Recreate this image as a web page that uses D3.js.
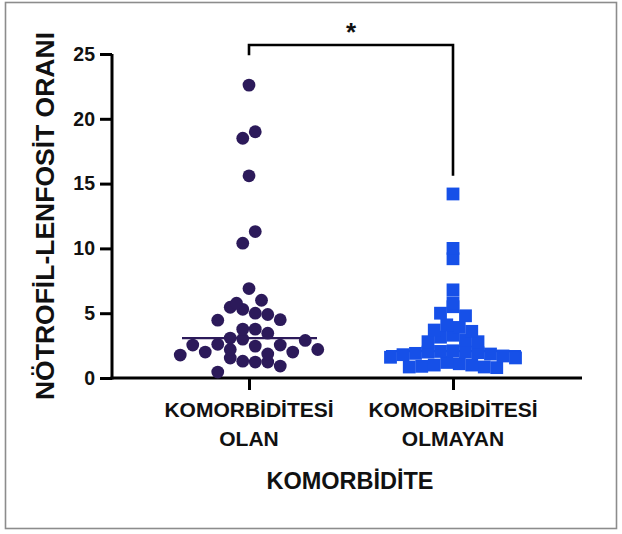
<!DOCTYPE html>
<html>
<head>
<meta charset="utf-8">
<script src="https://cdn.jsdelivr.net/npm/d3@7"></script>
<style>
  html, body { margin: 0; padding: 0; background: #fff; }
  svg { display: block; }
  text { font-family: "Liberation Sans", Arial, sans-serif; font-weight: bold; fill: #111; }
</style>
</head>
<body>
<svg id="chart" width="622" height="534"></svg>
<script>
// Groups shown on the x axis
const categories = ["KOMORBİDİTESİ OLAN", "KOMORBİDİTESİ OLMAYAN"];
const categoryLines = [["KOMORBİDİTESİ", "OLAN"], ["KOMORBİDİTESİ", "OLMAYAN"]];

// Neutrophil-lymphocyte ratio per patient, with comorbidity
const withComorbidity = [
  22.6, 19.0, 18.5, 15.6, 11.3, 10.4, 6.9, 6.0, 5.77, 5.46, 5.3, 5.0, 4.9,
  4.5, 4.46, 3.77, 3.77, 3.46, 3.08, 3.0, 2.9, 2.6, 2.54, 2.54, 2.46, 2.2,
  2.2, 2.0, 2.0, 1.85, 1.77, 1.54, 1.3, 1.23, 1.23, 0.92, 0.46
];

// Neutrophil-lymphocyte ratio per patient, without comorbidity
const withoutComorbidity = [
  14.2, 10.0, 9.2, 6.8, 5.8, 5.5, 5.0, 4.8, 4.1, 3.9, 3.7, 3.6, 3.3, 3.15,
  2.9, 2.8, 2.8, 2.1, 2.05, 2.0, 2.0, 1.95, 1.9, 1.85, 1.8, 1.7, 1.6, 1.55,
  1.2, 1.1, 1.0, 1.0, 0.9, 0.85, 0.85, 0.8
];

const yTicks = [0, 5, 10, 15, 20, 25];
const yTitle = "NÖTROFİL-LENFOSİT ORANI";
const xTitle = "KOMORBİDİTE";
const significance = "*";

const svg = d3.select("#chart");

// frame around the figure
svg.append("rect")
  .attr("x", 5.5).attr("y", 2.5).attr("width", 611).attr("height", 526)
  .attr("fill", "none").attr("stroke", "#8c8c8c").attr("stroke-width", 1.6);

const plot = { left: 112, right: 582, top: 54, bottom: 378 };

const y = d3.scaleLinear().domain([0, 25]).range([plot.bottom, plot.top]);
const x = d3.scalePoint().domain(categories).range([249, 453]);

// ---- y axis
const yAxis = svg.append("g")
  .attr("transform", `translate(${plot.left},0)`)
  .call(d3.axisLeft(y).tickValues(yTicks).tickSize(12).tickSizeOuter(0).tickPadding(5));
yAxis.select(".domain").attr("stroke", "#000").attr("stroke-width", 3)
  .attr("d", `M0,${plot.bottom + 1.5}V${plot.top}`);
yAxis.selectAll(".tick line").attr("stroke", "#000").attr("stroke-width", 3);
yAxis.selectAll(".tick text").attr("font-size", 19.5).attr("fill", "#111")
  .style("font-family", "'Liberation Sans', Arial, sans-serif").style("font-weight", "bold");

// ---- x axis
const xAxis = svg.append("g")
  .attr("transform", `translate(0,${plot.bottom})`)
  .call(d3.axisBottom(x).tickSize(12).tickSizeOuter(0).tickFormat(""));
xAxis.select(".domain").attr("stroke", "#000").attr("stroke-width", 3)
  .attr("d", `M${plot.left - 1.5},0H${plot.right}`);
xAxis.selectAll(".tick line").attr("stroke", "#000").attr("stroke-width", 3);

categories.forEach((c, i) => {
  const t = svg.append("text")
    .attr("x", x(c)).attr("text-anchor", "middle").attr("font-size", 21);
  categoryLines[i].forEach((ln, j) => {
    t.append("tspan").attr("x", x(c)).attr("y", 417 + j * 29).text(ln);
  });
});

svg.append("text")
  .attr("x", 350).attr("y", 489).attr("text-anchor", "middle")
  .attr("font-size", 23.5).text(xTitle);

svg.append("text")
  .attr("transform", `translate(54,${(plot.top + plot.bottom) / 2}) rotate(-90)`)
  .attr("text-anchor", "middle").attr("font-size", 26.5).text(yTitle);

// ---- column scatter layout: values are grouped into horizontal rows whose
// vertical extent is at most `rowSpan` pixels, and each row is spread over
// evenly spaced slots centred on the group.
//   "arch"    - larger values take the middle slots
//   "scatter" - values are dealt over the slots with a fixed stride
function scatterLayout(values, slot, rowSpan, mode) {
  const pts = values.map(v => ({ v, py: y(v) })).sort((a, b) => a.v - b.v);
  const rows = [];
  pts.forEach(p => {
    const row = rows[rows.length - 1];
    if (row && row[0].py - p.py < rowSpan) row.push(p);
    else rows.push([p]);
  });
  const gcd = (a, b) => (b ? gcd(b, a % b) : a);
  rows.forEach(row => {
    const n = row.length;
    if (mode === "scatter") {
      let s = Math.max(1, Math.round(n * 0.618));
      while (gcd(s, n) !== 1) s++;
      row.forEach((p, i) => {
        const pos = (i * s) % n;
        p.dx = (pos - (n - 1) / 2) * slot;
      });
    } else {
      const desc = row.slice().sort((a, b) => b.v - a.v);
      const offsets = [];
      if (n % 2) {
        offsets.push(0);
        for (let k = 1; offsets.length < n; k++) offsets.push(-k, k);
      } else {
        for (let k = 0.5; offsets.length < n; k++) offsets.push(-k, k);
      }
      desc.forEach((p, i) => { p.dx = offsets[i] * slot; });
    }
  });
  return pts;
}

const purple = "#2c1a5a";
const blue = "#1650e8";
const r = 6.4;
const sq = 12.8;

// group 1: circles with median line
const g1 = scatterLayout(withComorbidity, 12.5, 16, "scatter");
const c1 = x(categories[0]);
svg.append("g").selectAll("circle").data(g1).join("circle")
  .attr("cx", d => c1 + d.dx).attr("cy", d => d.py).attr("r", r)
  .attr("fill", purple);
svg.append("line")
  .attr("x1", c1 - 67).attr("x2", c1 + 68)
  .attr("y1", y(d3.median(withComorbidity))).attr("y2", y(d3.median(withComorbidity)))
  .attr("stroke", purple).attr("stroke-width", 2.2);

// group 2: squares with median line
const g2 = scatterLayout(withoutComorbidity, 12.5, 9.5, "arch");
const c2 = x(categories[1]);
svg.append("line")
  .attr("x1", c2 - 67).attr("x2", c2 + 68)
  .attr("y1", y(d3.median(withoutComorbidity))).attr("y2", y(d3.median(withoutComorbidity)))
  .attr("stroke", blue).attr("stroke-width", 2.2);
svg.append("g").selectAll("rect").data(g2).join("rect")
  .attr("x", d => c2 + d.dx - sq / 2).attr("y", d => d.py - sq / 2)
  .attr("width", sq).attr("height", sq).attr("fill", blue);

// ---- significance bracket
const bracketTop = y(25.7);
svg.append("path")
  .attr("d", `M${c1},${y(24.9)}V${bracketTop}H${c2}V${y(d3.max(withoutComorbidity) + 1.4)}`)
  .attr("fill", "none").attr("stroke", "#000").attr("stroke-width", 2.6);
svg.append("text")
  .attr("x", (c1 + c2) / 2).attr("y", bracketTop - 4).attr("text-anchor", "middle")
  .attr("font-size", 26).text(significance);
</script>
</body>
</html>
